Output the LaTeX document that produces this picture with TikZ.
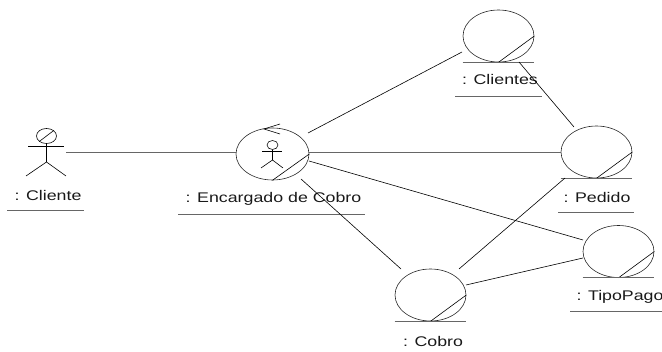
\documentclass[tikz,border=0pt]{standalone}
\usepackage{fontspec}
\setmainfont[FakeStretch=1.27]{Liberation Sans}
\tikzset{
  obj/.style={draw=black!85,line width=0.6pt,ellipse,minimum width=71pt,minimum height=52pt,inner sep=0pt},
  conn/.style={draw=black,line width=0.6pt},
  gline/.style={draw=black!60,line width=0.9pt},
  lab/.style={font=\fontsize{14}{15}\selectfont,text=black!90,inner sep=0pt},
}
\usetikzlibrary{shapes.geometric}
\begin{document}
\begin{tikzpicture}[x=1pt,y=-1pt]
\useasboundingbox (0,0) rectangle (662,352);
% objects
\node[obj,minimum width=73pt] (enc) at (272.5,154) {};
\node[obj] (cli) at (498.5,36) {};
\node[obj] (ped) at (596.5,152) {};
\node[obj] (tip) at (618.5,251.5) {};
\node[obj] (cob) at (430.5,295) {};
% diagonals and base lines
\foreach \n in {enc,cli,ped,tip,cob}{
  \draw[conn] (\n.south) -- (\n.east);
}
\foreach \n in {cli,ped,tip,cob}{
  \draw[gline] (\n.west |- \n.south) -- (\n.east |- \n.south);
}
% labels
\node[lab] (lcliente) at (48,195) {: Cliente};
\node[lab] (lenc) at (273.5,199) {: Encargado de Cobro};
\node[lab] (lcli) at (500,80) {: Clientes};
\node[lab] (lped) at (597,197) {: Pedido};
\node[lab] (ltip) at (620,297) {: TipoPago};
\node[lab] (lcob) at (433,341) {: Cobro};
% label underlines
\draw[gline] (7,210) -- (84,210);
\draw[gline] (178,214) -- (365,214);
\draw[gline] (455,96) -- (542,96);
\draw[gline] (558,212) -- (634,212);
\draw[gline] (570,311) -- (662,311);
% actor Cliente
\node[draw=black,line width=0.6pt,ellipse,minimum width=20pt,minimum height=15pt,inner sep=0pt] (head) at (46.5,136) {};
\draw[conn] (head.south west) -- (head.north east);
\draw[conn] (head.south) -- (46.5,162) coordinate (hip);
\draw[conn] (28,146) -- (64,146);
\draw[conn] (26,176) -- (hip) -- (66,176);
% inner actor
\node[draw=black,line width=0.6pt,ellipse,minimum width=11pt,minimum height=9pt,inner sep=0pt] (ihead) at (272.5,145) {};
\draw[conn] (ihead.south) -- (272.5,160) coordinate (ihip);
\draw[conn] (262,151) -- (282,151);
\draw[conn] (261,168) -- (ihip) -- (283,168);
% arrow on Encargado
\draw[conn] (280,124) -- (264,129) -- (280,134);
% connector ends
\coordinate (a1) at (66,152);
\coordinate (e2) at (308,133);
\coordinate (c1) at (462,52);
\coordinate (c2) at (519,62);
\coordinate (p1) at (574,127);
\coordinate (e3) at (309,152);
\coordinate (p2) at (561,152);
\coordinate (e4) at (309,161);
\coordinate (t1) at (583,240);
\coordinate (e5) at (301,179);
\coordinate (b1) at (401,269);
\coordinate (b2) at (459,269);
\coordinate (p3) at (565,178);
\coordinate (b3) at (466,285);
\coordinate (t2) at (583,258);
\draw[gline] (a1) -- (a1 -| enc.west);
\draw[conn] (e2) -- (c1);
\draw[conn] (c2) -- (p1);
\draw[gline] (e3) -- (p2);
\draw[conn] (e4) -- (t1);
\draw[conn] (e5) -- (b1);
\draw[conn] (b2) -- (p3);
\draw[conn] (b3) -- (t2);
\end{tikzpicture}
\end{document}
